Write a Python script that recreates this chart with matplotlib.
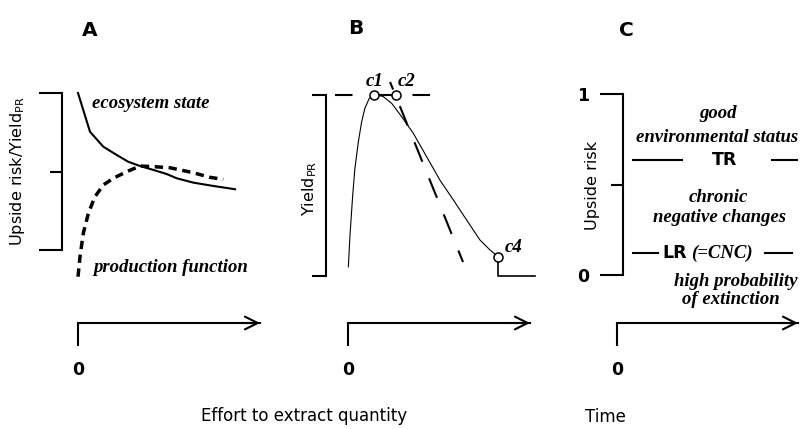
import matplotlib
matplotlib.use('Agg')
import matplotlib.pyplot as plt

W, H = 803, 429

# panel A: ecosystem state and production function vs effort
eco_x = [0.0, 0.066, 0.139, 0.213, 0.276, 0.341, 0.414, 0.487, 0.542, 0.634, 0.743, 0.863]
eco_y = [1.0, 0.753, 0.658, 0.605, 0.562, 0.535, 0.510, 0.484, 0.457, 0.429, 0.408, 0.387]
prod_x = [0.0, 0.011, 0.029, 0.057, 0.093, 0.139, 0.194, 0.268, 0.341, 0.414, 0.505, 0.634, 0.725, 0.798]
prod_y = [-0.170, -0.043, 0.106, 0.234, 0.339, 0.414, 0.457, 0.499, 0.535, 0.531, 0.524, 0.492, 0.463, 0.450]

# panel B: yield curve and critical points
yield_x = [0.002, 0.011, 0.026, 0.038, 0.057, 0.075, 0.093, 0.117, 0.139, 0.165, 0.194, 0.240,
           0.295, 0.359, 0.432, 0.505, 0.579, 0.652, 0.725, 0.780, 0.826]
yield_y = [0.051, 0.227, 0.448, 0.595, 0.742, 0.852, 0.927, 0.982, 0.996, 0.999, 0.991, 0.954,
           0.880, 0.788, 0.659, 0.530, 0.420, 0.309, 0.199, 0.144, 0.105]
slope_x = [0.231, 0.632]
slope_y = [1.072, 0.077]
c_labels = ['c1', 'c2', 'c4']
c_x = [0.145, 0.262, 0.826]
c_y = [1.0, 1.0, 0.105]

# panel C: risk thresholds
thr_names = ['TR', 'LR']
thr_vals = [0.635, 0.12]

SERIF = dict(family='Liberation Serif', style='italic', fontweight='bold')
FS = 13.5

fig = plt.figure(figsize=(W / 100, H / 100), dpi=100)
plt.rcParams['mathtext.fontset'] = 'dejavusans'


def fig_text(x, y, s, **kw):
    kw.setdefault('ha', 'center')
    kw.setdefault('va', 'center')
    fig.text(x / W, 1 - y / H, s, **kw)


def panel(x0, spine, y0, y1, ybase, ux, top=60):
    # axes laid out in pixels: x0 = origin, spine = bracket, y0/y1 = bracket ends
    uy = y0 - y1
    left = min(x0, spine) - 2
    right = x0 + ux * 1.06
    ax = fig.add_axes([left / W, 1 - ybase / H, (right - left) / W, (ybase - top) / H])
    ax.set_xlim((left - x0) / ux, (right - x0) / ux)
    ax.set_ylim(-(ybase - y0) / uy, (y0 - top) / uy)
    ax.patch.set_visible(False)
    for s in ['top', 'right']:
        ax.spines[s].set_visible(False)
    ax.spines['left'].set_position(('data', (spine - x0) / ux))
    ax.spines['left'].set_bounds(0, 1)
    ax.spines['bottom'].set_bounds(0, 1)
    for s in ['left', 'bottom']:
        ax.spines[s].set_linewidth(1.5)
    ax.set_xticks([0])
    ax.set_xticklabels(['0'], fontweight='bold', fontsize=12.5)
    ax.tick_params(axis='x', direction='out', length=16.5, width=1.5, pad=11)
    ax.set_yticks([0, 1])
    ax.set_yticklabels(['', ''])
    ax.tick_params(axis='y', which='major', direction='out', length=16.5, width=1.5)
    ax.tick_params(axis='y', which='minor', direction='out', length=8.6, width=1.5)
    ax.annotate('', xy=(1.0, 0), xycoords=('data', 'axes fraction'),
                xytext=(0.9, 0), textcoords=('data', 'axes fraction'),
                arrowprops=dict(arrowstyle='->', lw=1.5, mutation_scale=23,
                                shrinkA=0, shrinkB=0))
    return ax


# ---- A
axA = panel(78, 62, 250, 93, 323, 182)
axA.set_yticks([0.5], minor=True)
axA.plot(eco_x, eco_y, color='black', lw=1.5, clip_on=False)
axA.plot(prod_x, prod_y, color='black', lw=2.5, dashes=(2.4, 1.6), clip_on=False)
fig_text(151, 103, 'ecosystem state', fontsize=FS, **SERIF)
fig_text(171, 267, 'production function', fontsize=FS, **SERIF)
fig_text(18, 171, 'Upside risk/Yield$_{\\rm PR}$', fontsize=11.6, rotation=90)
fig_text(90, 30, 'A', fontsize=14.5, fontweight='bold')

# ---- B
axB = panel(348, 326, 276, 95, 323, 182)
axB.tick_params(axis='y', which='major', length=10)
axB.plot(yield_x, yield_y, color='black', lw=0.8, clip_on=False)
axB.plot(slope_x, slope_y, color='black', lw=1.5, linestyle=(6.2, (10.1, 8.6)), clip_on=False)
axB.plot([-0.071, 0.451], [1.0, 1.0], color='black', lw=1.5, dashes=(8.4, 28.8), clip_on=False)
axB.plot(c_x[:2], c_y[:2], color='black', lw=1.5)
axB.plot([c_x[2], c_x[2], 1.027], [c_y[2], 0, 0], color='black', lw=1.2, clip_on=False)
axB.plot(c_x, c_y, 'o', ms=6.5, mfc='white', mec='black', mew=1.1, zorder=5, clip_on=False)
for lab, px_, py_ in zip(c_labels, [375, 407, 514], [82, 82, 247]):
    fig_text(px_, py_, lab, fontsize=FS, **SERIF)
fig_text(310, 188, 'Yield$_{\\rm PR}$', fontsize=11.6, rotation=90)
fig_text(356, 28, 'B', fontsize=14.5, fontweight='bold')

# ---- C
axC = panel(617, 623, 275, 94, 323, 181)
axC.set_yticks([0.5], minor=True)
axC.set_yticklabels(['0', '1'], fontweight='bold', fontsize=12.5)
axC.tick_params(axis='y', which='major', length=16.5, pad=8)
tr, lr = thr_vals
axC.plot([0.09, 0.357], [tr, tr], color='black', lw=1.5)
axC.plot([0.855, 0.993], [tr, tr], color='black', lw=1.5)
axC.plot([0.09, 0.228], [lr, lr], color='black', lw=1.5)
axC.plot([0.818, 0.965], [lr, lr], color='black', lw=1.5)
axC.text(0.597, tr, thr_names[0], fontsize=12.5, fontweight='bold', ha='center', va='center')
axC.text(0.320, lr, thr_names[1], fontsize=12.5, fontweight='bold', ha='center', va='center')
axC.text(0.58, lr, '(=CNC)', fontsize=FS, ha='center', va='center', **SERIF)
fig_text(718, 113, 'good', fontsize=FS, **SERIF)
fig_text(717, 137, 'environmental status', fontsize=FS, **SERIF)
fig_text(718, 198, 'chronic', fontsize=FS, **SERIF)
fig_text(720, 218, 'negative changes', fontsize=FS, **SERIF)
fig_text(736, 282, 'high probability', fontsize=FS, **SERIF)
fig_text(731, 300, 'of extinction', fontsize=FS, **SERIF)
fig_text(593, 185, 'Upside risk', fontsize=11.6, rotation=90)
fig_text(626, 30, 'C', fontsize=14.5, fontweight='bold')

fig_text(304, 416, 'Effort to extract quantity', fontsize=12)
fig_text(605, 417, 'Time', fontsize=12)

fig.savefig('out.png', dpi=100)
